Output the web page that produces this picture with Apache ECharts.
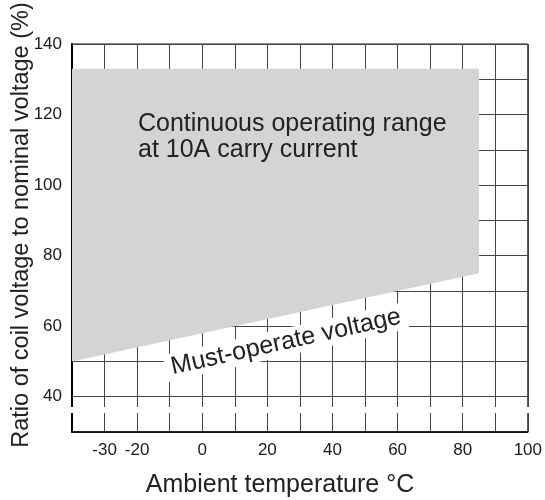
<!DOCTYPE html>
<html>
<head>
<meta charset="utf-8">
<script src="https://cdn.jsdelivr.net/npm/echarts@6/dist/echarts.min.js"></script>
<style>
  html, body { margin: 0; padding: 0; background: #fff; }
  #chart { width: 545px; height: 500px; }
</style>
</head>
<body>
<div id="chart"></div>
<script>
// ---- data ----
const regionTemp = [-40, 85];          // ambient temperature (°C) at region edges
const regionLower = [50, 75];          // must-operate voltage (%) at those temperatures
const regionUpper = [133, 133];        // upper limit of operating range (%)
const xTickLabels = [-30, -20, 0, 20, 40, 60, 80, 100];
const yTickLabels = [40, 60, 80, 100, 120, 140];
const xRange = [-40, 100];
const yRange = [30, 140];
const xTitle = 'Ambient temperature °C';
const yTitle = 'Ratio of coil voltage to nominal voltage (%)';
const regionLabel = 'Continuous operating range\nat 10A carry current';
const curveLabel = 'Must-operate voltage';

const FONT = '"Liberation Sans", Arial, sans-serif';
const chart = echarts.init(document.getElementById('chart'), null, { renderer: 'canvas' });

const option = {
  animation: false,
  backgroundColor: '#fff',
  grid: { left: 72, right: 16, top: 44, bottom: 68, show: true, borderColor: '#111', borderWidth: 1 },
  xAxis: {
    type: 'value', min: xRange[0], max: xRange[1], interval: 10,
    axisLine: { show: true, onZero: false, lineStyle: { color: '#000', width: 1.5 } },
    axisTick: { show: false },
    splitLine: { show: true, lineStyle: { color: '#444', width: 1 } },
    axisLabel: {
      margin: 10, color: '#1a1a1a', fontSize: 17, fontFamily: FONT,
      formatter: v => xTickLabels.indexOf(v) >= 0 ? String(v) : ''
    }
  },
  yAxis: {
    type: 'value', min: yRange[0], max: yRange[1], interval: 10,
    axisLine: { show: true, onZero: false, lineStyle: { color: '#000', width: 2 } },
    axisTick: { show: false },
    splitLine: { show: true, lineStyle: { color: '#444', width: 1 } },
    axisLabel: {
      margin: 10, color: '#1a1a1a', fontSize: 17, fontFamily: FONT,
      formatter: v => yTickLabels.indexOf(v) >= 0 ? String(v) : ''
    }
  },
  series: [{
    type: 'custom',
    silent: true,
    z: 5,
    data: [0],
    renderItem: function (params, api) {
      const pts = [];
      for (let i = 0; i < regionTemp.length; i++) pts.push(api.coord([regionTemp[i], regionLower[i]]));
      for (let i = regionTemp.length - 1; i >= 0; i--) pts.push(api.coord([regionTemp[i], regionUpper[i]]));
      return { type: 'polygon', shape: { points: pts }, style: { fill: '#d4d4d4', stroke: null } };
    }
  }],
  graphic: [
    { type: 'rect', z: 100, shape: { x: 65, y: 407, width: 470, height: 6 }, style: { fill: '#fff' } },
    { type: 'text', z: 110, x: 138, y: 111,
      style: { text: regionLabel, font: '25px ' + FONT, fill: '#222', lineHeight: 26, textAlign: 'left', textVerticalAlign: 'top' } },
    { type: 'text', z: 110, x: 286, y: 342, rotation: 12.5 * Math.PI / 180,
      style: { text: curveLabel, font: '25px ' + FONT, fill: '#222', textAlign: 'center', textVerticalAlign: 'middle',
               backgroundColor: '#fff', padding: [1, 6] } },
    { type: 'text', z: 110, x: 280, y: 485,
      style: { text: xTitle, font: '25px ' + FONT, fill: '#222', textAlign: 'center', textVerticalAlign: 'middle' } },
    { type: 'text', z: 110, x: 22, y: 225, rotation: Math.PI / 2,
      style: { text: yTitle, font: '23.5px ' + FONT, fill: '#222', textAlign: 'center', textVerticalAlign: 'middle' } }
  ]
};
chart.setOption(option);
</script>
</body>
</html>
